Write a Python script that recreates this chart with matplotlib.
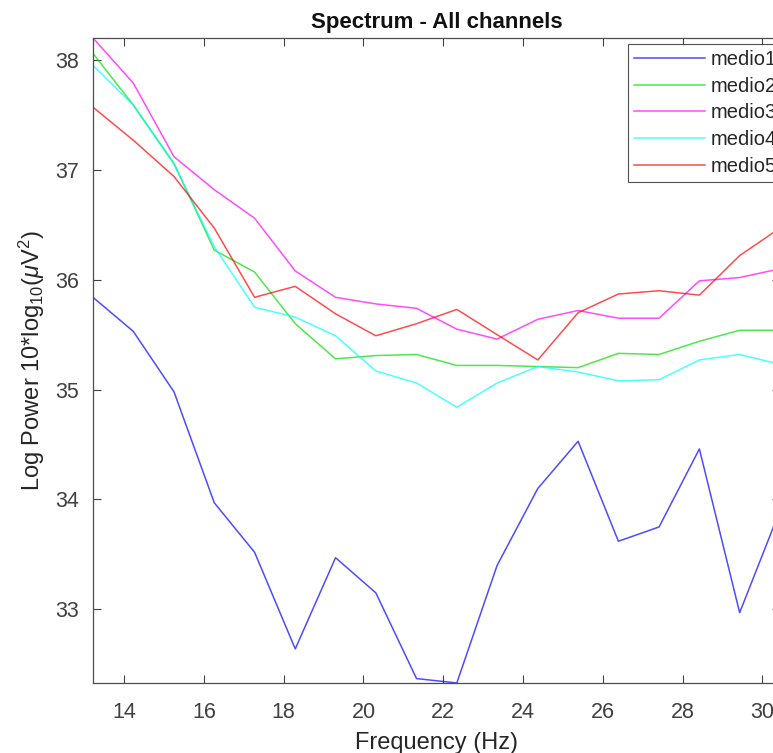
import numpy as np
import matplotlib
matplotlib.use('Agg')
from matplotlib import pyplot as plt

# Frequenzachse (Hz) und Spektren je Kanal
freq = [13.22, 14.23, 15.25, 16.26, 17.27, 18.29, 19.30, 20.31, 21.33, 22.34,
        23.35, 24.37, 25.38, 26.39, 27.41, 28.42, 29.43, 30.44]

medio1 = [35.84, 35.53, 34.98, 33.97, 33.52, 32.64, 33.47, 33.15, 32.37, 32.33,
          33.40, 34.10, 34.53, 33.62, 33.75, 34.46, 32.97, 33.90]
medio2 = [38.06, 37.59, 37.06, 36.27, 36.07, 35.60, 35.28, 35.31, 35.32, 35.22,
          35.22, 35.21, 35.20, 35.33, 35.32, 35.44, 35.54, 35.54]
medio3 = [38.20, 37.79, 37.12, 36.82, 36.56, 36.08, 35.84, 35.78, 35.74, 35.55,
          35.46, 35.64, 35.72, 35.65, 35.65, 35.99, 36.02, 36.10]
medio4 = [37.95, 37.59, 37.05, 36.30, 35.75, 35.66, 35.49, 35.17, 35.06, 34.84,
          35.06, 35.21, 35.16, 35.08, 35.09, 35.27, 35.32, 35.23]
medio5 = [37.57, 37.27, 36.94, 36.47, 35.84, 35.94, 35.69, 35.49, 35.60, 35.73,
          35.50, 35.27, 35.70, 35.87, 35.90, 35.86, 36.22, 36.47]

kanalNamen = ['medio1', 'medio2', 'medio3', 'medio4', 'medio5']
farben = ['#0000ff', '#00e000', '#ff00ff', '#00ffff', '#ff0000']
xTicks = [14, 16, 18, 20, 22, 24, 26, 28, 30]
yTicks = [33, 34, 35, 36, 37, 38]

plt.rcParams['font.family'] = ['Liberation Sans', 'DejaVu Sans']
plt.rcParams['mathtext.fontset'] = 'custom'
plt.rcParams['mathtext.rm'] = 'Liberation Sans'
plt.rcParams['mathtext.it'] = 'Liberation Sans:italic'

grau = '#262626'

fig = plt.figure(figsize=(7.73, 7.53), dpi=100)
# Achse geht rechts ueber den Bildrand hinaus (wie im Original abgeschnitten)
ax1 = fig.add_axes([0.1203, 0.093, 0.8887, 0.8565])

for werte, name, farbe in zip([medio1, medio2, medio3, medio4, medio5], kanalNamen, farben):
    ax1.plot(freq, werte, lw=1.1, color=farbe, alpha=0.7, label=name)

ax1.set_xlim(freq[0], freq[-1])
ax1.set_ylim(32.33, 38.2)
ax1.set_xticks(xTicks)
ax1.set_yticks(yTicks)

ax1.tick_params(direction='in', length=6, width=0.8, colors='#404040',
                labelsize=15.5, top=True, right=True, pad=10)
ax1.tick_params(axis='x', pad=14)
for spine in ax1.spines.values():
    spine.set_color('#4d4d4d')
    spine.set_linewidth(0.9)

ax1.set_title('Spectrum - All channels', fontsize=16, fontweight='bold',
              color='#111111', pad=7)
ax1.set_xlabel('Frequency (Hz)', fontsize=17, color=grau, labelpad=6)
ax1.set_ylabel(r'Log Power 10*log$_{10}$($\mu$V$^2$)', fontsize=17, color=grau,
               labelpad=6)

# Legende oben rechts, wird am Bildrand abgeschnitten (wie im Original)
leg = ax1.legend(loc='upper left', bbox_to_anchor=(628 / 773, 1 - 44 / 753),
                 bbox_transform=fig.transFigure, borderaxespad=0.0,
                 fontsize=14.5, frameon=True, fancybox=False,
                 handlelength=3.5, handletextpad=0.3,
                 labelspacing=0.38, borderpad=0.3)
leg.get_frame().set_edgecolor('#262626')
leg.get_frame().set_linewidth(0.8)
for txt in leg.get_texts():
    txt.set_color(grau)

fig.savefig('out.png', dpi=100)
